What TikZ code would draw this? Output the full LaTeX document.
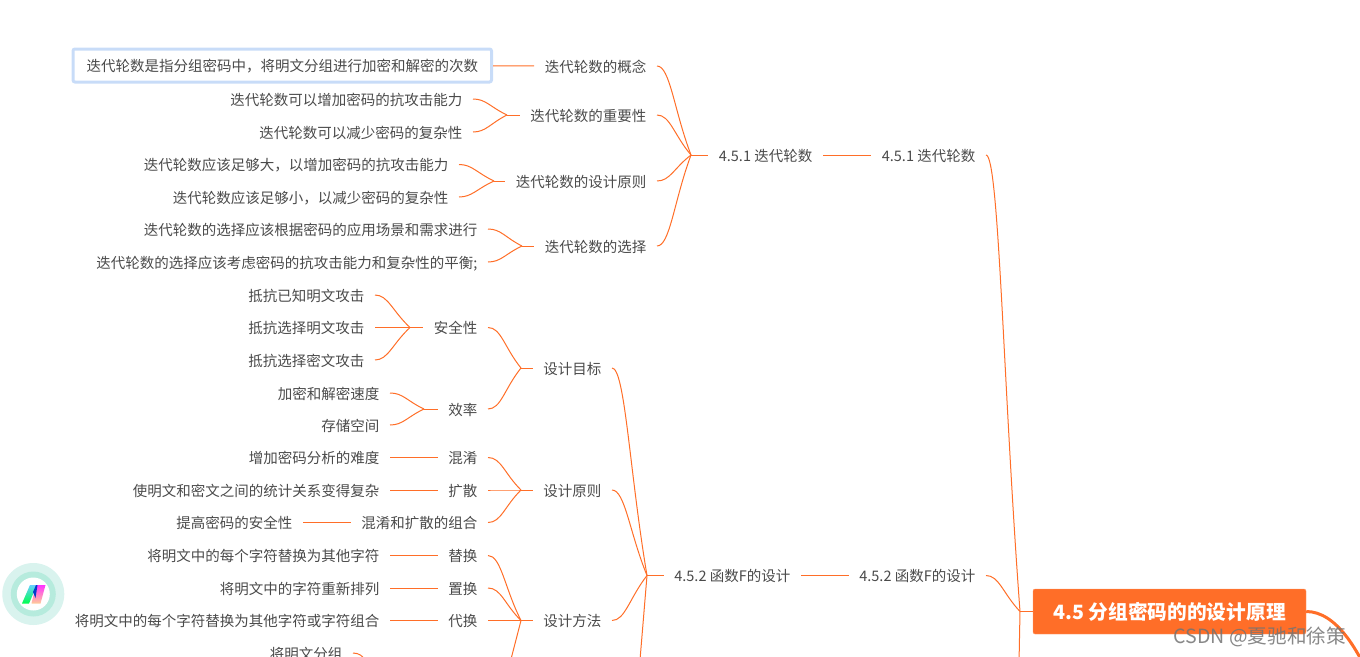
\documentclass[tikz,border=0pt]{standalone}
\usepackage{fontspec}
\setmainfont{Noto Sans CJK SC}
\usetikzlibrary{calc}
\definecolor{mapline}{HTML}{FF6E28}
\definecolor{maptext}{HTML}{4A4A4A}
\definecolor{rootfill}{HTML}{FF6E28}
\definecolor{selectline}{HTML}{C8DCF8}
\tikzset{
	topic/.style={inner xsep=10.5pt, inner ysep=3pt, text=maptext, text height=12.4pt, text depth=0pt, font=\fontsize{14.5}{16}\selectfont, anchor=east},
	selected/.style={topic, draw=selectline, line width=3pt, rounded corners=2pt, inner xsep=13.5pt, minimum height=33pt},
	link/.style={draw=mapline, line width=1pt},
	rootbox/.style={fill=rootfill, draw=rootfill!70!white, rounded corners=2pt, inner sep=0pt, minimum width=273pt, minimum height=45pt, text=white, font=\fontsize{19.7}{22}\bfseries\selectfont},
}
% ветка от стыка к дочернему узлу
\newcommand{\branch}[2]{\draw[link] (#2.east) .. controls +(13,0) and ($(#2.east)!0.5!(#1)$) .. (#1);}
\begin{document}
\begin{tikzpicture}[x=1pt, y=-1pt]
	\useasboundingbox (0, 0) rectangle (1360, 656);
	\clip (0, 0) rectangle (1360, 656);

	% Корень
	\node[rootbox] (root) at (1169.5, 611.5) {4.5 分组密码的的设计原理};
	\coordinate (jroot) at (1020, 611.5);
	\coordinate (nextsec) at (1018.5, 690);
	\coordinate (rightsec) at (1375, 690);
	\draw[link] (jroot) -- (root.west);
	\draw[mapline, line width=3pt] (root.east) .. controls +(30, 0) and +(-16, -40) .. (rightsec);
	\draw[link] (jroot) -- (nextsec);

	% 4.5.1
	\node[topic] (a1) at (986, 155) {4.5.1 迭代轮数};
	\node[topic] (a2) at (823, 155) {4.5.1 迭代轮数};
	\coordinate (ja) at (691, 155);
	\draw[link] (a2) -- (a1);
	\draw[link] (ja) -- (a2.west);
	\branch{jroot}{a1}

	\node[topic] (a21) at (657, 66) {迭代轮数的概念};
	\node[topic] (a22) at (657, 115) {迭代轮数的重要性};
	\node[topic] (a23) at (657, 181) {迭代轮数的设计原则};
	\node[topic] (a24) at (657, 246) {迭代轮数的选择};
	\foreach \kid in {a21, a22, a23, a24} {\branch{ja}{\kid}}

	\node[selected] (a211) at (493, 65.5) {迭代轮数是指分组密码中，将明文分组进行加密和解密的次数};
	\draw[link] (a211) -- (a21);

	\node[topic] (a221) at (473, 99) {迭代轮数可以增加密码的抗攻击能力};
	\node[topic] (a222) at (473, 132) {迭代轮数可以减少密码的复杂性};
	\coordinate (ja22) at (507, 115);
	\draw[link] (ja22) -- (a22.west);
	\foreach \kid in {a221, a222} {\branch{ja22}{\kid}}

	\node[topic] (a231) at (459, 164.5) {迭代轮数应该足够大，以增加密码的抗攻击能力};
	\node[topic] (a232) at (459, 197) {迭代轮数应该足够小，以减少密码的复杂性};
	\coordinate (ja23) at (494, 181);
	\draw[link] (ja23) -- (a23.west);
	\foreach \kid in {a231, a232} {\branch{ja23}{\kid}}

	\node[topic] (a241) at (488, 229) {迭代轮数的选择应该根据密码的应用场景和需求进行};
	\node[topic] (a242) at (488, 262) {迭代轮数的选择应该考虑密码的抗攻击能力和复杂性的平衡;};
	\coordinate (ja24) at (522, 246);
	\draw[link] (ja24) -- (a24.west);
	\foreach \kid in {a241, a242} {\branch{ja24}{\kid}}

	% 4.5.2
	\node[topic] (b1) at (986, 575.5) {4.5.2 函数F的设计};
	\node[topic] (b2) at (801, 575.5) {4.5.2 函数F的设计};
	\coordinate (jb) at (647, 575.5);
	\coordinate (bnext) at (637.5, 690);
	\draw[link] (b2) -- (b1);
	\draw[link] (jb) -- (b2.west);
	\branch{jroot}{b1}
	\draw[link] (jb) -- (bnext);

	\node[topic] (b21) at (612, 368) {设计目标};
	\node[topic] (b22) at (612, 490) {设计原则};
	\node[topic] (b23) at (612, 620.5) {设计方法};
	\foreach \kid in {b21, b22, b23} {\branch{jb}{\kid}}

	% Цели
	\coordinate (jb21) at (521, 368);
	\draw[link] (jb21) -- (b21.west);
	\node[topic] (c1) at (488, 327.5) {安全性};
	\node[topic] (c2) at (488, 409) {效率};
	\foreach \kid in {c1, c2} {\branch{jb21}{\kid}}

	\coordinate (jc1) at (410, 327.5);
	\draw[link] (jc1) -- (c1.west);
	\node[topic] (c11) at (375, 295) {抵抗已知明文攻击};
	\node[topic] (c12) at (375, 327.5) {抵抗选择明文攻击};
	\node[topic] (c13) at (375, 360) {抵抗选择密文攻击};
	\foreach \kid in {c11, c12, c13} {\branch{jc1}{\kid}}

	\coordinate (jc2) at (424, 409);
	\draw[link] (jc2) -- (c2.west);
	\node[topic] (c21) at (390, 393) {加密和解密速度};
	\node[topic] (c22) at (390, 425) {存储空间};
	\foreach \kid in {c21, c22} {\branch{jc2}{\kid}}

	% Принципы
	\coordinate (jb22) at (521, 490);
	\draw[link] (jb22) -- (b22.west);
	\node[topic] (d1) at (488, 457.5) {混淆};
	\node[topic] (d2) at (488, 490) {扩散};
	\node[topic] (d3) at (488, 522.5) {混淆和扩散的组合};
	\foreach \kid in {d1, d2, d3} {\branch{jb22}{\kid}}
	\node[topic] (d11) at (390, 457.5) {增加密码分析的难度};
	\node[topic] (d21) at (390, 490) {使明文和密文之间的统计关系变得复杂};
	\node[topic] (d31) at (303, 522.5) {提高密码的安全性};
	\draw[link] (d11) -- (d1);
	\draw[link] (d21) -- (d2);
	\draw[link] (d31) -- (d3);

	% Методы
	\coordinate (jb23) at (521, 620.5);
	\coordinate (b2next) at (503, 690);
	\draw[link] (jb23) -- (b23.west);
	\draw[link] (jb23) -- (b2next);
	\node[topic] (e1) at (488, 555.5) {替换};
	\node[topic] (e2) at (488, 588) {置换};
	\node[topic] (e3) at (488, 620.5) {代换};
	\foreach \kid in {e1, e2, e3} {\branch{jb23}{\kid}}
	\node[topic] (e11) at (390, 555.5) {将明文中的每个字符替换为其他字符};
	\node[topic] (e21) at (390, 588) {将明文中的字符重新排列};
	\node[topic] (e31) at (390, 620.5) {将明文中的每个字符替换为其他字符或字符组合};
	\draw[link] (e11) -- (e1);
	\draw[link] (e21) -- (e2);
	\draw[link] (e31) -- (e3);
	\node[topic] (e41) at (353, 653) {将明文分组};
	\coordinate (je4) at (380, 680);
	\branch{je4}{e41}

	% Значок
	\fill[fill={rgb,255:red,217;green,243;blue,238}] (33.3, 594) circle (31);
	\fill[fill={rgb,255:red,182;green,235;blue,221}] (33.3, 594) circle (22.5);
	\fill[white] (33.3, 594) circle (16.5);
	\shade[bottom color=green!70!cyan, top color=cyan!70!blue!60!white] (22, 603.5) -- (29, 603.5) -- (37, 585) -- (30, 585) -- cycle;
	\shade[top color=magenta!80!white, bottom color=orange!40!white] (36, 585) -- (45.5, 585) -- (40.5, 603.5) -- (31.5, 603.5) -- cycle;
	\fill[blue!70!cyan!80!black] (33, 592) -- (36, 585) -- (37.5, 585) -- (35.5, 598) -- cycle;

	% Подпись
	\node[text=black!55, font=\fontsize{19.6}{22}\selectfont, anchor=east, inner sep=0pt, opacity=0.85] (mark) at (1346, 637) {CSDN @夏驰和徐策};
\end{tikzpicture}
\end{document}
